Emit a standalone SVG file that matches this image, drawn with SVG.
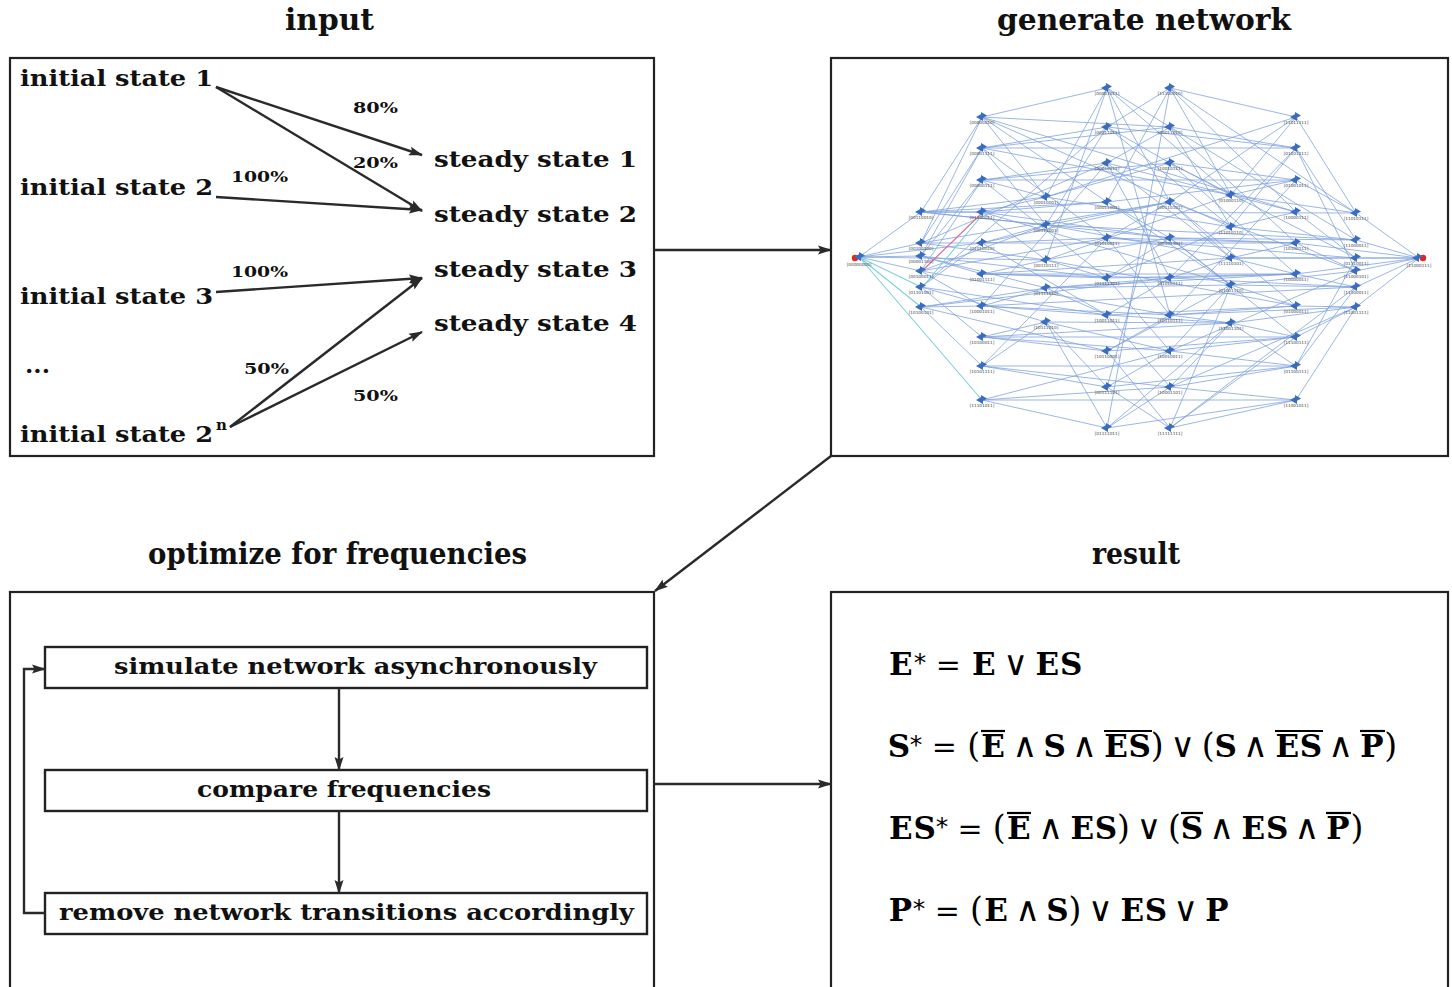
<svg xmlns="http://www.w3.org/2000/svg" xmlns:xlink="http://www.w3.org/1999/xlink" width="1452" height="987" viewBox="0 0 1452 987">
<defs>
<style>
.t{font-family:"DejaVu Serif",serif;font-weight:bold;fill:#111}
.ttl{font-size:29px}
.st{font-size:23px}
.pc{font-size:15px}
.fl{font-size:23px}
.box{fill:#fff;stroke:#222;stroke-width:2.2}
.fbox{fill:#fff;stroke:#222;stroke-width:2.4}
.ar{fill:none;stroke:#2a2a2a;stroke-width:2.4}
.ml{font-family:"DejaVu Serif",serif;font-weight:bold;font-size:31px;fill:#000;text-anchor:middle}
.mo{font-family:"DejaVu Serif",serif;font-size:30px;fill:#000;text-anchor:middle}
.mp{font-family:"DejaVu Serif",serif;font-size:33px;fill:#000;text-anchor:middle}
.mw{font-family:"DejaVu Sans",sans-serif;font-size:34px;fill:#000;text-anchor:middle}
.ms{font-family:"DejaVu Sans",sans-serif;font-size:25px;fill:#000;text-anchor:middle}
.ov{stroke:#000;stroke-width:2.2}
.ed{fill:none;stroke:#7c9fdc;stroke-width:0.9;stroke-opacity:0.85}
.nl{font-family:"DejaVu Sans",sans-serif;font-size:4.2px;fill:#444;text-anchor:middle}
.nd{fill:#3a6cc0}
</style>
<marker id="ah" viewBox="0 0 14 10" refX="13" refY="5" markerWidth="14" markerHeight="10" orient="auto" markerUnits="userSpaceOnUse">
<path d="M0,0.5 L14,5 L0,9.5 L2.5,5 Z" fill="#2a2a2a"/>
</marker>
<g id="nm"><path class="nd" d="M-6,0 L1,-4 L1,4 Z"/><path class="nd" d="M5,-1.5 L-1,-5 L-1,2 Z"/></g>
</defs>
<rect width="1452" height="987" fill="#fff"/>

<g id="titles">
<text class="t ttl" x="285" y="30" textLength="89" lengthAdjust="spacingAndGlyphs">input</text>
<text class="t ttl" x="997" y="30" textLength="294" lengthAdjust="spacingAndGlyphs">generate network</text>
<text class="t ttl" x="148" y="564" textLength="379" lengthAdjust="spacingAndGlyphs">optimize for frequencies</text>
<text class="t ttl" x="1092" y="564" textLength="88" lengthAdjust="spacingAndGlyphs">result</text>
</g>

<g id="input-panel">
<rect class="box" x="10" y="58" width="644" height="398"/>
<text class="t st" x="20" y="86" textLength="193" lengthAdjust="spacingAndGlyphs">initial state 1</text>
<text class="t st" x="20" y="195" textLength="193" lengthAdjust="spacingAndGlyphs">initial state 2</text>
<text class="t st" x="20" y="304" textLength="193" lengthAdjust="spacingAndGlyphs">initial state 3</text>
<text class="t st" x="25" y="373" textLength="25" lengthAdjust="spacingAndGlyphs">...</text>
<text class="t st" x="20" y="442"><tspan textLength="193" lengthAdjust="spacingAndGlyphs">initial state 2</tspan><tspan x="216" y="430" font-size="15px">n</tspan></text>
<text class="t st" x="434" y="167" textLength="203" lengthAdjust="spacingAndGlyphs">steady state 1</text>
<text class="t st" x="434" y="222" textLength="203" lengthAdjust="spacingAndGlyphs">steady state 2</text>
<text class="t st" x="434" y="277" textLength="203" lengthAdjust="spacingAndGlyphs">steady state 3</text>
<text class="t st" x="434" y="331" textLength="203" lengthAdjust="spacingAndGlyphs">steady state 4</text>
<text class="t pc" x="353" y="113" textLength="45" lengthAdjust="spacingAndGlyphs">80%</text>
<text class="t pc" x="353" y="168" textLength="45" lengthAdjust="spacingAndGlyphs">20%</text>
<text class="t pc" x="231" y="182" textLength="57" lengthAdjust="spacingAndGlyphs">100%</text>
<text class="t pc" x="231" y="277" textLength="57" lengthAdjust="spacingAndGlyphs">100%</text>
<text class="t pc" x="244" y="374" textLength="45" lengthAdjust="spacingAndGlyphs">50%</text>
<text class="t pc" x="353" y="401" textLength="45" lengthAdjust="spacingAndGlyphs">50%</text>
</g>

<g id="input-connectors">
<line class="ar" x1="216" y1="87" x2="422" y2="155" marker-end="url(#ah)"/>
<line class="ar" x1="216" y1="87" x2="422" y2="211" marker-end="url(#ah)"/>
<line class="ar" x1="216" y1="197" x2="422" y2="210" marker-end="url(#ah)"/>
<line class="ar" x1="216" y1="292" x2="422" y2="278" marker-end="url(#ah)"/>
<line class="ar" x1="230" y1="427" x2="422" y2="278" marker-end="url(#ah)"/>
<line class="ar" x1="230" y1="427" x2="422" y2="332" marker-end="url(#ah)"/>
</g>

<g id="network-panel">
<rect class="box" x="831" y="58" width="617" height="398"/>
<path class="ed" d="M859 257L921 212M859 257L921 243M859 257L921 256M859 257L921 271M859 257L982 243M859 257L1046 260
M1419 258L1356 213M1419 258L1356 240M1419 258L1356 258M1419 258L1356 271M1419 258L1356 287M1419 258L1356 307M1419 258L1296 243M1419 258L1296 274M1419 258L1231 258
M921 212L982 117M921 212L982 212M921 212L1046 197M921 212L1107 202M921 212L1170 238M921 212L1046 225M921 212L1356 213
M921 243L982 117M921 243L982 148M921 243L982 243M921 243L1046 260M921 243L1107 163M921 243L1170 202
M921 256L982 148M921 256L982 180M921 256L982 274M921 256L1107 278M921 256L1046 288
M921 271L982 180M921 271L982 306M921 271L1046 225M921 271L1107 238M921 271L1170 315
M921 287L982 243M921 287L982 337M921 287L1046 322M921 287L1107 315M921 287L1107 127
M921 307L982 366M921 307L982 306M921 307L1046 288M921 307L1107 351M921 307L1170 278
M982 117L1107 88M982 117L1107 202M982 117L1170 127M982 117L1046 197M982 117L1231 227M982 117L1296 212
M982 148L1107 127M982 148L1170 127M982 148L1046 225M982 148L1296 148M982 148L1107 238M982 148L1231 195
M982 180L1107 163M982 180L1170 163M982 180L1046 197M982 180L1296 180M982 180L1107 278
M982 212L1046 197M982 212L1107 202M982 212L1170 238M982 212L1046 260M982 212L1231 285
M982 243L1046 225M982 243L1107 238M982 243L1170 202M982 243L1107 315M982 243L1296 243
M982 274L1046 260M982 274L1107 278M982 274L1170 278M982 274L1231 258M982 274L1296 274
M982 306L1046 288M982 306L1107 315M982 306L1170 315M982 306L1107 163M982 306L1356 287
M982 337L1046 322M982 337L1107 351M982 337L1170 351M982 337L1231 323M982 337L1296 337
M982 366L1107 387M982 366L1170 387M982 366L1046 322M982 366L1107 238M982 366L1296 366
M982 400L1107 428M982 400L1170 351M982 400L1296 400M982 400L1170 387
M1046 197L1107 88M1046 197L1170 163M1046 197L1231 227M1046 197L1296 117
M1046 225L1107 127M1046 225L1170 202M1046 225L1231 258M1046 225L1356 240
M1046 260L1107 278M1046 260L1170 238M1046 260L1231 195M1046 260L1296 306
M1046 288L1107 315M1046 288L1170 278M1046 288L1231 285M1046 288L1296 274
M1046 322L1107 387M1046 322L1170 351M1046 322L1231 323M1046 322L1107 428
M1107 88L1170 127M1107 88L1170 202M1107 88L1231 195M1107 88L1046 260M1107 88L1170 315
M1107 127L1170 88M1107 127L1170 163M1107 127L1296 148M1107 127L1231 227
M1107 163L1170 127M1107 163L1170 278M1107 163L1296 212M1107 163L1231 258
M1107 202L1170 88M1107 202L1170 238M1107 202L1296 180M1107 202L1231 285
M1107 238L1170 202M1107 238L1170 315M1107 238L1296 243M1107 238L1356 258
M1107 278L1170 238M1107 278L1170 351M1107 278L1296 274M1107 278L1231 227
M1107 315L1170 278M1107 315L1170 387M1107 315L1296 306M1107 315L1231 323
M1107 351L1170 315M1107 351L1170 428M1107 351L1296 337M1107 351L1231 285
M1107 387L1170 351M1107 387L1170 428M1107 387L1296 366M1107 387L1170 163
M1107 428L1170 387M1107 428L1170 88M1107 428L1296 400M1107 428L1231 323
M1170 88L1231 195M1170 88L1296 117M1170 88L1296 212M1170 88L1356 213
M1170 127L1231 227M1170 127L1296 148M1170 127L1296 243M1170 127L1356 240
M1170 163L1231 195M1170 163L1296 180M1170 163L1296 274M1170 163L1356 258
M1170 202L1231 258M1170 202L1296 117M1170 202L1356 271M1170 202L1296 306
M1170 238L1231 285M1170 238L1296 243M1170 238L1356 240M1170 238L1296 337
M1170 278L1231 258M1170 278L1296 274M1170 278L1356 287M1170 278L1296 148
M1170 315L1231 323M1170 315L1296 306M1170 315L1356 307M1170 315L1296 180
M1170 351L1231 285M1170 351L1296 337M1170 351L1296 366M1170 351L1356 271
M1170 387L1231 323M1170 387L1296 366M1170 387L1296 400M1170 387L1356 307
M1170 428L1296 400M1170 428L1296 337M1170 428L1356 287M1170 428L1231 285
M1231 195L1296 117M1231 195L1356 213M1231 195L1296 180
M1231 227L1296 148M1231 227L1356 240M1231 227L1296 212
M1231 258L1296 243M1231 258L1356 258M1231 258L1296 274
M1231 285L1296 306M1231 285L1356 271M1231 285L1356 287
M1231 323L1296 337M1231 323L1356 307M1231 323L1296 366
M1296 117L1356 213M1296 148L1356 240M1296 148L1356 271M1296 180L1356 213M1296 212L1356 258M1296 243L1356 271M1296 274L1356 287M1296 306L1356 307M1296 337L1356 307M1296 366L1356 287M1296 366L1356 258M1296 400L1356 307"/>
<path d="M859 257L921 287M859 257L921 307M859 257L982 400M921 289L984 213" fill="none" stroke="#7fd0dc" stroke-width="1.1"/>
<path d="M921 272L982 213" fill="none" stroke="#d9709a" stroke-width="1.2"/>
<circle cx="855" cy="258" r="3.2" fill="#e8241d"/>
<circle cx="1423" cy="258" r="3.2" fill="#e8241d"/>
<g id="net-nodes">
<use xlink:href="#nm" x="860" y="257"/><text class="nl" x="859" y="266">[00000000]</text>
<use xlink:href="#nm" x="921" y="212"/><text class="nl" x="921" y="219">[00110010]</text>
<use xlink:href="#nm" x="921" y="243"/><text class="nl" x="921" y="250">[00100100]</text>
<use xlink:href="#nm" x="921" y="256"/><text class="nl" x="921" y="263">[00001100]</text>
<use xlink:href="#nm" x="921" y="271"/><text class="nl" x="921" y="278">[00100011]</text>
<use xlink:href="#nm" x="921" y="287"/><text class="nl" x="921" y="294">[01101001]</text>
<use xlink:href="#nm" x="921" y="307"/><text class="nl" x="921" y="314">[10100101]</text>
<use xlink:href="#nm" x="982" y="117"/><text class="nl" x="982" y="124">[00000010]</text>
<use xlink:href="#nm" x="982" y="148"/><text class="nl" x="982" y="155">[00001111]</text>
<use xlink:href="#nm" x="982" y="180"/><text class="nl" x="982" y="187">[00000111]</text>
<use xlink:href="#nm" x="982" y="212"/><text class="nl" x="982" y="219">[01100011]</text>
<use xlink:href="#nm" x="982" y="243"/><text class="nl" x="982" y="250">[01010010]</text>
<use xlink:href="#nm" x="982" y="274"/><text class="nl" x="982" y="281">[01001111]</text>
<use xlink:href="#nm" x="982" y="306"/><text class="nl" x="982" y="313">[10001011]</text>
<use xlink:href="#nm" x="982" y="337"/><text class="nl" x="982" y="344">[10100011]</text>
<use xlink:href="#nm" x="982" y="366"/><text class="nl" x="982" y="373">[10101111]</text>
<use xlink:href="#nm" x="982" y="400"/><text class="nl" x="982" y="407">[11101011]</text>
<use xlink:href="#nm" x="1046" y="197"/><text class="nl" x="1046" y="204">[00010001]</text>
<use xlink:href="#nm" x="1046" y="225"/><text class="nl" x="1046" y="232">[00111001]</text>
<use xlink:href="#nm" x="1046" y="260"/><text class="nl" x="1046" y="267">[00110111]</text>
<use xlink:href="#nm" x="1046" y="288"/><text class="nl" x="1046" y="295">[01111010]</text>
<use xlink:href="#nm" x="1046" y="322"/><text class="nl" x="1046" y="329">[10111010]</text>
<use xlink:href="#nm" x="1107" y="88"/><text class="nl" x="1107" y="95">[00001011]</text>
<use xlink:href="#nm" x="1107" y="127"/><text class="nl" x="1107" y="134">[00011011]</text>
<use xlink:href="#nm" x="1107" y="163"/><text class="nl" x="1107" y="170">[00010111]</text>
<use xlink:href="#nm" x="1107" y="202"/><text class="nl" x="1107" y="209">[00011001]</text>
<use xlink:href="#nm" x="1107" y="238"/><text class="nl" x="1107" y="245">[01010011]</text>
<use xlink:href="#nm" x="1107" y="278"/><text class="nl" x="1107" y="285">[01111101]</text>
<use xlink:href="#nm" x="1107" y="315"/><text class="nl" x="1107" y="322">[10011011]</text>
<use xlink:href="#nm" x="1107" y="351"/><text class="nl" x="1107" y="358">[10110001]</text>
<use xlink:href="#nm" x="1107" y="387"/><text class="nl" x="1107" y="394">[00111101]</text>
<use xlink:href="#nm" x="1107" y="428"/><text class="nl" x="1107" y="435">[01111011]</text>
<use xlink:href="#nm" x="1170" y="88"/><text class="nl" x="1170" y="95">[11100010]</text>
<use xlink:href="#nm" x="1170" y="127"/><text class="nl" x="1170" y="134">[00011010]</text>
<use xlink:href="#nm" x="1170" y="163"/><text class="nl" x="1170" y="170">[10010111]</text>
<use xlink:href="#nm" x="1170" y="202"/><text class="nl" x="1170" y="209">[00110101]</text>
<use xlink:href="#nm" x="1170" y="238"/><text class="nl" x="1170" y="245">[00101101]</text>
<use xlink:href="#nm" x="1170" y="278"/><text class="nl" x="1170" y="285">[01010111]</text>
<use xlink:href="#nm" x="1170" y="315"/><text class="nl" x="1170" y="322">[10110111]</text>
<use xlink:href="#nm" x="1170" y="351"/><text class="nl" x="1170" y="358">[10010011]</text>
<use xlink:href="#nm" x="1170" y="387"/><text class="nl" x="1170" y="394">[10001101]</text>
<use xlink:href="#nm" x="1170" y="428"/><text class="nl" x="1170" y="435">[11111111]</text>
<use xlink:href="#nm" x="1231" y="195"/><text class="nl" x="1231" y="202">[01000110]</text>
<use xlink:href="#nm" x="1231" y="227"/><text class="nl" x="1231" y="234">[11010110]</text>
<use xlink:href="#nm" x="1231" y="258"/><text class="nl" x="1231" y="265">[11110101]</text>
<use xlink:href="#nm" x="1231" y="285"/><text class="nl" x="1231" y="292">[01001110]</text>
<use xlink:href="#nm" x="1231" y="323"/><text class="nl" x="1231" y="330">[11001101]</text>
<use xlink:href="#nm" x="1296" y="117"/><text class="nl" x="1296" y="124">[11011111]</text>
<use xlink:href="#nm" x="1296" y="148"/><text class="nl" x="1296" y="155">[01101111]</text>
<use xlink:href="#nm" x="1296" y="180"/><text class="nl" x="1296" y="187">[01001011]</text>
<use xlink:href="#nm" x="1296" y="212"/><text class="nl" x="1296" y="219">[10000111]</text>
<use xlink:href="#nm" x="1296" y="243"/><text class="nl" x="1296" y="250">[10100111]</text>
<use xlink:href="#nm" x="1296" y="274"/><text class="nl" x="1296" y="281">[10000011]</text>
<use xlink:href="#nm" x="1296" y="306"/><text class="nl" x="1296" y="313">[01000011]</text>
<use xlink:href="#nm" x="1296" y="337"/><text class="nl" x="1296" y="344">[11100111]</text>
<use xlink:href="#nm" x="1296" y="366"/><text class="nl" x="1296" y="373">[01100111]</text>
<use xlink:href="#nm" x="1296" y="400"/><text class="nl" x="1296" y="407">[11001011]</text>
<use xlink:href="#nm" x="1356" y="213"/><text class="nl" x="1356" y="220">[11010111]</text>
<use xlink:href="#nm" x="1356" y="240"/><text class="nl" x="1356" y="247">[11000011]</text>
<use xlink:href="#nm" x="1356" y="258"/><text class="nl" x="1356" y="265">[01110011]</text>
<use xlink:href="#nm" x="1356" y="271"/><text class="nl" x="1356" y="278">[11000101]</text>
<use xlink:href="#nm" x="1356" y="287"/><text class="nl" x="1356" y="294">[11100011]</text>
<use xlink:href="#nm" x="1356" y="307"/><text class="nl" x="1356" y="314">[11001111]</text>
<use xlink:href="#nm" x="1418" y="258"/><text class="nl" x="1419" y="267">[11000111]</text>
</g>
</g>

<g id="optimize-panel">
<rect class="box" x="10" y="592" width="644" height="400"/>
</g>
<g id="flow-simulate">
<rect class="fbox" x="45" y="647" width="602" height="41"/>
<text class="t fl" x="114" y="674" textLength="483" lengthAdjust="spacingAndGlyphs">simulate network asynchronously</text>
</g>
<g id="flow-compare">
<rect class="fbox" x="45" y="770" width="602" height="41"/>
<text class="t fl" x="197" y="797" textLength="294" lengthAdjust="spacingAndGlyphs">compare frequencies</text>
</g>
<g id="flow-remove">
<rect class="fbox" x="45" y="893" width="602" height="41"/>
<text class="t fl" x="59" y="920" textLength="575" lengthAdjust="spacingAndGlyphs">remove network transitions accordingly</text>
</g>

<g id="result-panel">
<rect class="box" x="831" y="592" width="617" height="400"/>
<text class="ml" x="900.9" y="675">E</text><text class="ms" x="920" y="671">*</text>
<text class="mo" x="948.4" y="675">=</text>
<text class="ml" x="983.9" y="675">E</text><text class="mw" x="1015.7" y="675">∨</text>
<text class="ml" x="1047.4" y="675">E</text><text class="ml" x="1071.1" y="675">S</text>

<text class="ml" x="898.9" y="757">S</text><text class="ms" x="916" y="753">*</text>
<text class="mo" x="944.4" y="757">=</text>
<text class="mp" x="973.6" y="757">(</text>
<text class="ml" x="993.1" y="757">E</text>
<text class="mw" x="1024.9" y="757">∧</text>
<text class="ml" x="1054.6" y="757">S</text>
<text class="mw" x="1084.4" y="757">∧</text>
<text class="ml" x="1116.1" y="757">E</text><text class="ml" x="1139.8" y="757">S</text>
<text class="mp" x="1157.2" y="757">)</text>
<text class="mw" x="1182.8" y="757">∨</text>
<text class="mp" x="1208.2" y="757">(</text>
<text class="ml" x="1225.7" y="757">S</text>
<text class="mw" x="1255.5" y="757">∧</text>
<text class="ml" x="1287.2" y="757">E</text><text class="ml" x="1310.9" y="757">S</text>
<text class="mw" x="1340.7" y="757">∧</text>
<text class="ml" x="1371.8" y="757">P</text>
<text class="mp" x="1390.7" y="757">)</text>
<line class="ov" x1="981" y1="731" x2="1005" y2="731"/>
<line class="ov" x1="1104" y1="731" x2="1152" y2="731"/>
<line class="ov" x1="1275" y1="731" x2="1323" y2="731"/>
<line class="ov" x1="1360" y1="731" x2="1385" y2="731"/>

<text class="ml" x="900.9" y="839">E</text><text class="ml" x="924.6" y="839">S</text><text class="ms" x="942" y="835">*</text>
<text class="mo" x="970.1" y="839">=</text>
<text class="mp" x="999.3" y="839">(</text>
<text class="ml" x="1018.8" y="839">E</text>
<text class="mw" x="1050.6" y="839">∧</text>
<text class="ml" x="1082.3" y="839">E</text><text class="ml" x="1106" y="839">S</text>
<text class="mp" x="1123.4" y="839">)</text>
<text class="mw" x="1149" y="839">∨</text>
<text class="mp" x="1174.4" y="839">(</text>
<text class="ml" x="1191.9" y="839">S</text>
<text class="mw" x="1221.7" y="839">∧</text>
<text class="ml" x="1253.4" y="839">E</text><text class="ml" x="1277.1" y="839">S</text>
<text class="mw" x="1306.9" y="839">∧</text>
<text class="ml" x="1338" y="839">P</text>
<text class="mp" x="1356.9" y="839">)</text>
<line class="ov" x1="1007" y1="813" x2="1031" y2="813"/>
<line class="ov" x1="1181" y1="813" x2="1203" y2="813"/>
<line class="ov" x1="1326" y1="813" x2="1351" y2="813"/>

<text class="ml" x="900.3" y="921">P</text><text class="ms" x="919" y="917">*</text>
<text class="mo" x="947.3" y="921">=</text>
<text class="mp" x="976.5" y="921">(</text>
<text class="ml" x="996" y="921">E</text>
<text class="mw" x="1027.8" y="921">∧</text>
<text class="ml" x="1057.5" y="921">S</text>
<text class="mp" x="1074.9" y="921">)</text>
<text class="mw" x="1100.5" y="921">∨</text>
<text class="ml" x="1132.2" y="921">E</text><text class="ml" x="1155.9" y="921">S</text>
<text class="mw" x="1185.7" y="921">∨</text>
<text class="ml" x="1216.8" y="921">P</text>
</g>

<g id="connectors">
<line class="ar" x1="654" y1="250" x2="831" y2="250" marker-end="url(#ah)"/>
<line class="ar" x1="831" y1="456" x2="655" y2="591" marker-end="url(#ah)"/>
<line class="ar" x1="654" y1="784" x2="831" y2="784" marker-end="url(#ah)"/>
<line class="ar" x1="339" y1="688" x2="339" y2="770" marker-end="url(#ah)"/>
<line class="ar" x1="339" y1="811" x2="339" y2="893" marker-end="url(#ah)"/>
<polyline class="ar" points="45,913 24,913 24,669 45,669" marker-end="url(#ah)"/>
</g>
</svg>
